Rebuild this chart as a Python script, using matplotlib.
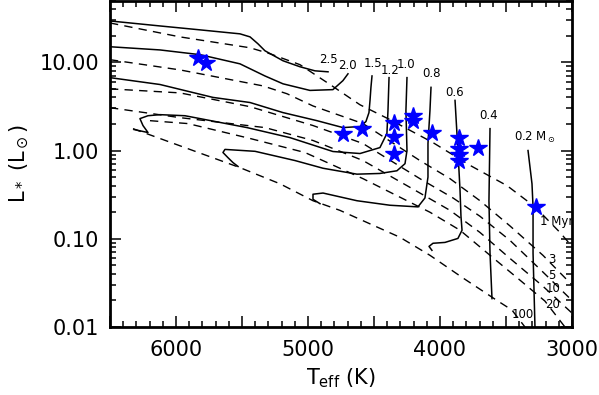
import matplotlib
matplotlib.use("Agg")
import matplotlib.pyplot as plt
from matplotlib.ticker import MultipleLocator, FuncFormatter, FixedLocator, LogLocator, NullFormatter

plt.rcParams['font.family'] = 'DejaVu Sans'
plt.rcParams['mathtext.default'] = 'regular'

# Tracés évolutifs (Teff en K, L en Lsol)
trk_25_T = [6500, 6121, 5818, 5515, 5439, 5379, 5326, 5189, 5061, 4947, 4848]
trk_25_L = [29.4, 25.8, 23.3, 21.0, 19.4, 16.2, 13.5, 10.4, 8.9, 8.0, 7.8]

trk_20_T = [6500, 6121, 5818, 5515, 5326, 5189, 4985, 4811, 4735, 4697]
trk_20_L = [15.0, 13.8, 12.2, 9.6, 7.0, 5.7, 4.8, 4.9, 6.2, 7.4]

trk_15_T = [6500, 6121, 5720, 5439, 5189, 4932, 4735, 4606, 4561, 4538, 4530, 4523, 4515]
trk_15_L = [6.7, 5.6, 4.0, 3.5, 2.69, 2.18, 1.82, 1.87, 2.13, 2.69, 3.7, 5.2, 7.0]

trk_12_T = [4386, 4394, 4402, 4455, 4606, 4811, 5136, 5462, 5932, 6121, 6212, 6273, 6250, 6212, 6318]
trk_12_L = [6.7, 2.83, 1.56, 1.08, 0.925, 0.975, 1.40, 1.82, 2.48, 2.55, 2.48, 2.30, 1.92, 1.60, 1.73]

trk_10_T = [4250, 4258, 4250, 4265, 4326, 4455, 4629, 4886, 5098, 5401, 5629, 5644, 5606, 5568, 5530]
trk_10_L = [6.7, 2.83, 1.00, 0.71, 0.59, 0.55, 0.54, 0.63, 0.77, 0.98, 1.03, 0.95, 0.83, 0.73, 0.66]

trk_08_T = [4068, 4076, 4091, 4091, 4114, 4167, 4379, 4629, 4886, 4962, 4962, 4909]
trk_08_L = [5.2, 2.83, 1.20, 0.50, 0.29, 0.23, 0.24, 0.27, 0.33, 0.32, 0.28, 0.25]

trk_06_T = [3886, 3864, 3848, 3841, 3833, 3864, 3962, 4053, 4083, 4061]
trk_06_L = [3.7, 1.00, 0.35, 0.18, 0.125, 0.101, 0.091, 0.089, 0.082, 0.074]

trk_04_T = [3621, 3629, 3621, 3606]
trk_04_L = [1.77, 0.27, 0.069, 0.021]

trk_02_T = [3333, 3303, 3295, 3295, 3280]
trk_02_L = [1.00, 0.42, 0.23, 0.069, 0.0095]

tracks = [(trk_25_T, trk_25_L), (trk_20_T, trk_20_L), (trk_15_T, trk_15_L),
          (trk_12_T, trk_12_L), (trk_10_T, trk_10_L), (trk_08_T, trk_08_L),
          (trk_06_T, trk_06_L), (trk_04_T, trk_04_L), (trk_02_T, trk_02_L)]

# Isochrones
iso_1_T = [6500, 5970, 5439, 5288, 5061, 4833, 4606, 4379, 4053, 3773, 3492, 3280, 3091, 3000]
iso_1_L = [27.9, 19.4, 14.6, 12.5, 9.4, 5.6, 3.3, 2.24, 1.23, 0.68, 0.40, 0.23, 0.118, 0.082]

iso_3_T = [6500, 5970, 5341, 5159, 4962, 4583, 4152, 3924, 3697, 3470, 3220, 3000]
iso_3_L = [10.7, 8.2, 5.4, 4.4, 3.2, 2.02, 0.77, 0.48, 0.27, 0.14, 0.065, 0.030]

iso_5_T = [6500, 5970, 5439, 4962, 4583, 4152, 3901, 3697, 3470, 3220, 3000]
iso_5_L = [5.0, 4.5, 3.14, 1.92, 1.20, 0.48, 0.29, 0.18, 0.096, 0.042, 0.020]

iso_10_T = [6500, 5970, 5326, 4962, 4583, 4152, 3924, 3697, 3470, 3220, 3000]
iso_10_L = [3.06, 2.36, 1.82, 1.30, 0.77, 0.33, 0.21, 0.118, 0.060, 0.029, 0.0144]

iso_20_T = [6197, 5909, 5439, 5023, 4583, 4076, 3848, 3621, 3394, 3205, 3053]
iso_20_L = [2.18, 2.02, 1.37, 0.95, 0.48, 0.20, 0.125, 0.065, 0.034, 0.0197, 0.010]

iso_100_T = [6326, 5871, 5515, 5212, 4962, 4758, 4303, 4076, 3826, 3568, 3455, 3356]
iso_100_L = [1.77, 1.00, 0.64, 0.42, 0.27, 0.21, 0.104, 0.065, 0.036, 0.020, 0.0156, 0.010]

isochrones = [(iso_1_T, iso_1_L), (iso_3_T, iso_3_L), (iso_5_T, iso_5_L),
              (iso_10_T, iso_10_L), (iso_20_T, iso_20_L), (iso_100_T, iso_100_L)]

# Etoiles observées
star_T = [5833, 5773, 4735, 4591, 4348, 4348, 4348, 4205, 4205, 4061,
          3856, 3856, 3856, 3856, 3712, 3273]
star_L = [11.2, 9.9, 1.52, 1.77, 2.07, 1.44, 0.925, 2.48, 2.18, 1.60,
          1.37, 1.03, 0.90, 0.77, 1.08, 0.227]

# Etiquettes des masses et des âges
mass_labels = ['2.5', '2.0', '1.5', '1.2', '1.0', '0.8', '0.6', '0.4', r'0.2 M$_\odot$']
mass_T = [4848, 4704, 4508, 4379, 4258, 4061, 3886, 3629, 3280]
mass_L = [10.7, 9.1, 9.6, 8.0, 9.4, 7.4, 4.5, 2.48, 1.40]

age_labels = ['1 Myr', '3', '5', '10', '20', '100']
age_T = [3240, 3151, 3151, 3144, 3144, 3371]
age_L = [0.158, 0.059, 0.038, 0.027, 0.018, 0.0137]

fig = plt.figure(figsize=(5.99, 3.95), dpi=100)
ax = fig.add_axes([0.1836, 0.172, 0.7713, 0.8265])

for T, L in tracks:
    ax.plot(T, L, color='black', lw=1.1)
for T, L in isochrones:
    ax.plot(T, L, color='black', lw=1.0, linestyle=(0, (6, 4.5)))

ax.plot(star_T, star_L, linestyle='none', marker='*', markersize=13,
        color='blue', markeredgecolor='blue')

for lab, T, L in zip(mass_labels, mass_T, mass_L):
    ax.text(T, L, lab, fontsize=8.5, ha='center', va='center')
for i, (lab, T, L) in enumerate(zip(age_labels, age_T, age_L)):
    ax.text(T, L, lab, fontsize=8.5, ha='left' if i == 0 else 'center', va='center', clip_on=True)

ax.set_yscale('log')
ax.set_xlim(6500, 3000)
ax.set_ylim(0.01, 50)

ax.xaxis.set_major_locator(MultipleLocator(500))
ax.xaxis.set_minor_locator(MultipleLocator(100))
ax.xaxis.set_major_formatter(FuncFormatter(lambda v, p: f'{v:.0f}' if v % 1000 == 0 else ''))

ax.yaxis.set_major_locator(FixedLocator([0.01, 0.1, 1, 10]))
ax.yaxis.set_minor_locator(LogLocator(base=10, subs=range(2, 10)))
ax.yaxis.set_minor_formatter(NullFormatter())
ax.set_yticklabels(['0.01', '0.10', '1.00', '10.00'])

ax.tick_params(which='both', direction='in', top=True, right=True, labelsize=15, width=1.1)
ax.tick_params(which='major', length=8)
ax.tick_params(which='minor', length=4)
ax.tick_params(axis='y', pad=8)
ax.tick_params(axis='x', pad=9)
for s in ax.spines.values():
    s.set_linewidth(2)

ax.set_xlabel(r'T$_{eff}$ (K)', fontsize=15, labelpad=5)
ax.set_ylabel(r'L$_*$ (L$_\odot$)', fontsize=15, labelpad=6)

fig.savefig('out.png', dpi=100)
